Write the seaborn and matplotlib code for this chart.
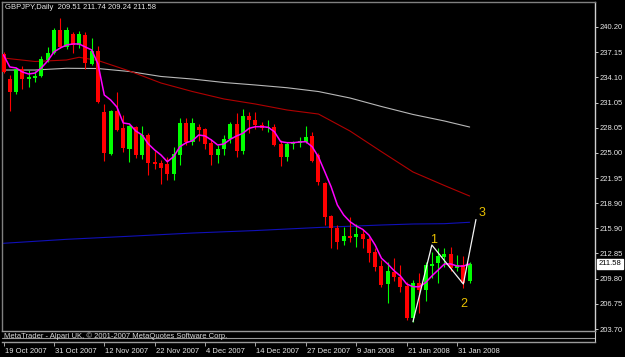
import numpy as np
import pandas as pd
import matplotlib
matplotlib.use("Agg")
import matplotlib.pyplot as plt
import matplotlib.transforms as mtransforms
import seaborn as sns

# ---------------- data ----------------
symbol = "GBPJPY,Daily"
open_ = [236.90, 233.91, 232.31, 235.12, 233.91, 234.04, 234.24, 236.21, 237.09, 239.84,
         237.82, 239.35, 238.02, 239.23, 235.73, 237.30, 229.96, 224.85, 230.05, 227.96,
         225.42, 228.08, 224.73, 227.15, 223.92, 223.73, 223.64, 222.43, 224.73, 228.56,
         226.34, 228.15, 227.87, 226.22, 224.73, 225.42, 226.63, 228.48, 225.21, 229.48,
         228.96, 228.36, 228.03, 228.15, 226.06, 224.45, 226.06, 226.14, 226.34, 227.03,
         224.73, 221.31, 217.36, 215.87, 214.37, 214.94, 214.78, 215.18, 214.54, 213.04,
         211.31, 209.10, 210.63, 210.02, 208.93, 204.99, 209.30, 208.41, 211.35, 211.71,
         212.44, 212.77, 211.11, 211.44, 209.51]
high = [237.18, 234.40, 235.28, 235.52, 235.00, 234.88, 236.73, 237.78, 240.04, 241.32,
        240.24, 239.63, 239.72, 239.63, 238.83, 237.90, 230.86, 230.17, 232.38, 229.56,
        228.36, 228.23, 228.23, 227.35, 225.20, 224.13, 224.52, 225.73, 229.24, 229.24,
        229.17, 228.48, 228.03, 226.63, 225.94, 227.15, 228.75, 229.77, 230.25, 229.96,
        229.96, 228.75, 228.96, 228.48, 226.54, 226.34, 226.46, 226.87, 228.23, 227.55,
        224.93, 221.50, 217.48, 216.27, 215.99, 217.20, 216.39, 215.75, 214.86, 213.45,
        212.04, 211.83, 212.25, 211.44, 209.42, 209.62, 210.43, 211.83, 213.04, 213.45,
        213.45, 213.57, 212.64, 212.52, 211.74]
low = [234.64, 230.08, 232.10, 232.71, 232.98, 233.59, 234.16, 236.01, 236.94, 237.63,
       237.50, 237.02, 237.63, 235.12, 235.61, 230.98, 224.04, 224.73, 227.63, 225.13,
       223.85, 224.33, 224.25, 222.31, 223.04, 221.19, 221.71, 221.71, 223.52, 225.94,
       225.94, 226.46, 225.42, 223.52, 223.73, 224.73, 226.22, 224.52, 224.81, 227.35,
       227.84, 227.75, 227.55, 225.82, 223.40, 224.04, 225.42, 225.73, 226.22, 223.92,
       221.10, 216.27, 213.45, 213.33, 213.85, 214.25, 213.65, 213.45, 211.83, 210.75,
       208.81, 206.81, 209.54, 208.21, 204.79, 204.58, 205.60, 207.08, 209.83, 209.22,
       211.16, 210.75, 210.75, 208.62, 209.24]
close = [234.80, 232.38, 235.09, 233.91, 234.19, 234.28, 236.33, 237.09, 239.84, 237.82,
         239.84, 238.02, 239.32, 235.81, 237.34, 231.17, 224.93, 230.08, 227.75, 225.54,
         228.23, 224.73, 227.15, 223.73, 223.68, 223.12, 222.43, 224.85, 228.56, 226.34,
         228.63, 227.75, 226.06, 224.73, 225.42, 226.63, 228.48, 225.21, 229.48, 228.96,
         228.36, 228.03, 228.15, 225.94, 224.45, 226.06, 226.14, 226.46, 226.94, 224.00,
         221.43, 217.27, 215.87, 214.25, 214.94, 214.73, 215.18, 214.54, 212.85, 211.23,
         209.02, 210.71, 209.95, 208.74, 204.99, 209.30, 208.41, 211.44, 211.56, 212.52,
         212.77, 211.03, 211.44, 209.22, 211.58]

# magenta moving average (one value per bar)
ma_fast = [236.82, 235.37, 235.25, 234.76, 234.52, 234.64, 235.25, 236.09, 237.18, 237.66,
           238.02, 238.15, 238.15, 237.78, 237.42, 235.73, 231.98, 231.38, 230.53, 228.60,
           228.48, 227.63, 227.15, 226.06, 225.33, 224.73, 223.92, 224.52, 225.73, 226.22,
           226.46, 227.15, 227.03, 226.54, 225.94, 226.06, 226.63, 227.03, 227.35, 227.96,
           228.15, 228.15, 228.08, 227.55, 226.34, 226.22, 226.22, 226.30, 226.34, 225.73,
           224.49, 222.71, 220.90, 218.69, 217.48, 216.67, 216.15, 215.75, 215.06, 213.85,
           212.25, 211.56, 210.75, 210.11, 209.14, 208.81, 208.81, 209.30, 210.11, 210.83,
           211.56, 211.56, 211.31, 211.31, 211.56]

# slower moving averages, read at selected bars
ma_red_bar = [0, 5, 10, 12, 15, 20, 25, 30, 35, 40, 45, 50, 55, 60, 65, 70, 74]
ma_red = [236.45, 236.03, 236.21, 236.54, 236.15, 234.88, 233.43, 232.40, 231.50, 230.89,
          230.17, 229.68, 227.63, 225.13, 222.68, 221.04, 219.77]
ma_gray_bar = [0, 5, 10, 15, 20, 25, 30, 35, 40, 45, 50, 55, 60, 65, 70, 74]
ma_gray = [235.00, 235.00, 235.21, 235.18, 234.82, 234.22, 233.91, 233.49, 233.19, 232.86,
           232.40, 231.62, 230.59, 229.63, 228.84, 228.11]
ma_blue_bar = [0, 10, 20, 30, 40, 50, 60, 65, 70, 74]
ma_blue = [214.06, 214.54, 214.91, 215.30, 215.60, 215.97, 216.27, 216.39, 216.43, 216.60]

# hand-drawn wave line
wave_bar = [65, 68, 73, 75]
wave_price = [204.58, 213.85, 209.14, 216.93]
wave_labels = ["1", "2", "3"]
wave_label_bar = [68.3, 73.1, 75.9]
wave_label_price = [214.46, 206.72, 217.76]

date_tick_bars = [0, 8, 16, 24, 32, 40, 48, 56, 64, 72]
date_tick_labels = ["19 Oct 2007", "31 Oct 2007", "12 Nov 2007", "22 Nov 2007", "4 Dec 2007",
                    "14 Dec 2007", "27 Dec 2007", "9 Jan 2008", "21 Jan 2008", "31 Jan 2008"]
price_ticks = [240.20, 237.15, 234.10, 231.05, 228.05, 225.00, 221.95, 218.90, 215.90,
               212.85, 209.80, 206.75, 203.70]
price_tick_labels = ["240.20", "237.15", "234.10", "231.05", "228.05", "225.00", "221.95",
                     "218.90", "215.90", "212.85", "209.80", "206.75", "203.70"]
footer = "MetaTrader - Alpari UK, \u00a9 2001-2007 MetaQuotes Software Corp."

# ---------------- style ----------------
sns.set_style("ticks")
plt.rcParams['font.family'] = ['Liberation Sans', 'DejaVu Sans']
FS = 5.5
TXT = '#e8e8e8'

W, H = 625, 357
fig = plt.figure(figsize=(W / 100, H / 100), dpi=100, facecolor='black')
ax = fig.add_axes([2 / W, 1 - 331 / H, 593 / W, 329 / H], facecolor='black')
strip = fig.add_axes([2 / W, 1 - 342 / H, 593 / W, 11 / H], facecolor='black', sharex=ax)

df = pd.DataFrame({"bar": np.arange(len(open_)), "open": open_, "high": high,
                   "low": low, "close": close, "ma_fast": ma_fast})
up = df["close"] >= df["open"]
colors = np.where(up, '#00ff00', '#ff0000')

# slow averages (behind candles)
sns.lineplot(x=ma_blue_bar, y=ma_blue, ax=ax, color='#1010b8', linewidth=0.8, zorder=1)
sns.lineplot(x=ma_gray_bar, y=ma_gray, ax=ax, color='#b8b8b8', linewidth=0.8, zorder=1)
sns.lineplot(x=ma_red_bar, y=ma_red, ax=ax, color='#b00000', linewidth=0.8, zorder=1)

# candles
ax.vlines(df["bar"], df["low"], df["high"], colors=colors, linewidth=0.8, zorder=2)
body_low = np.minimum(df["open"], df["close"])
body_h = np.maximum(np.abs(df["close"] - df["open"]), 0.13)
ax.bar(df["bar"], body_h, bottom=body_low, width=0.64, color=colors, linewidth=0, zorder=3)

# fast average on top
sns.lineplot(data=df, x="bar", y="ma_fast", ax=ax, color='#ff00ff', linewidth=1.1, zorder=4)

# wave line and labels
sns.lineplot(x=wave_bar, y=wave_price, ax=ax, color='#f4f4f4', linewidth=0.9, zorder=5,
             sort=False)
for lbl, xb, yp in zip(wave_labels, wave_label_bar, wave_label_price):
    ax.text(xb, yp, lbl, color='#e8c000', fontsize=9, ha='center', va='center', zorder=6)

# axes ranges
ax.set_xlim(-0.24, 93.9)
ax.set_ylim(203.46, 243.22)
ax.set_xlabel("")
ax.set_ylabel("")

# price scale on the right
ax.yaxis.tick_right()
ax.set_yticks(price_ticks)
ax.set_yticklabels(price_tick_labels)
ax.tick_params(axis='y', direction='out', length=2, width=0.7, color='#c8c8c8',
               labelcolor=TXT, labelsize=FS, pad=1.5)
ax.tick_params(axis='x', bottom=False, labelbottom=False)
for side, col in (('left', '#808080'), ('top', '#808080'), ('right', '#d0d0d0')):
    ax.spines[side].set_color(col)
    ax.spines[side].set_linewidth(1.0)
ax.spines['bottom'].set_visible(False)

# title
title = f"{symbol}  {open_[-1]:.2f} {high[-1]:.2f} {low[-1]:.2f} {close[-1]:.2f}"
ax.text(3 / 593, 1 - 5.5 / 329, title, transform=ax.transAxes, color=TXT, fontsize=FS,
        ha='left', va='center')

# current price box
trans = mtransforms.blended_transform_factory(ax.transAxes, ax.transData)
ax.text(1 + 4 / 593, close[-1], f"{close[-1]:.2f}", transform=trans, color='black',
        fontsize=FS, ha='left', va='center', clip_on=False,
        bbox=dict(boxstyle='square,pad=0.2', fc='white', ec='white'))

# bottom strip with date scale
strip.set_yticks([])
strip.set_ylim(0, 1)
strip.set_xticks(date_tick_bars)
strip.set_xticklabels(date_tick_labels)
strip.tick_params(axis='x', direction='out', length=3.2, width=0.7, color='#a8a8a8',
                  labelcolor=TXT, labelsize=FS, pad=1)
offset = mtransforms.ScaledTranslation(1 / 100, 0, fig.dpi_scale_trans)
for lab in strip.get_xticklabels():
    lab.set_horizontalalignment('left')
    lab.set_transform(lab.get_transform() + offset)
for side in ('top', 'bottom'):
    strip.spines[side].set_color('#9a9a9a')
    strip.spines[side].set_linewidth(1.0)
strip.spines['left'].set_visible(False)
strip.spines['right'].set_color('#d0d0d0')
strip.axhline(0.4, color='#9a9a9a', linewidth=0.8)
strip.text(2 / 593, 0.55, footer, transform=strip.transAxes, color='#d8d8d8', fontsize=FS,
           ha='left', va='center')

fig.savefig("out.png", dpi=100, facecolor='black')
